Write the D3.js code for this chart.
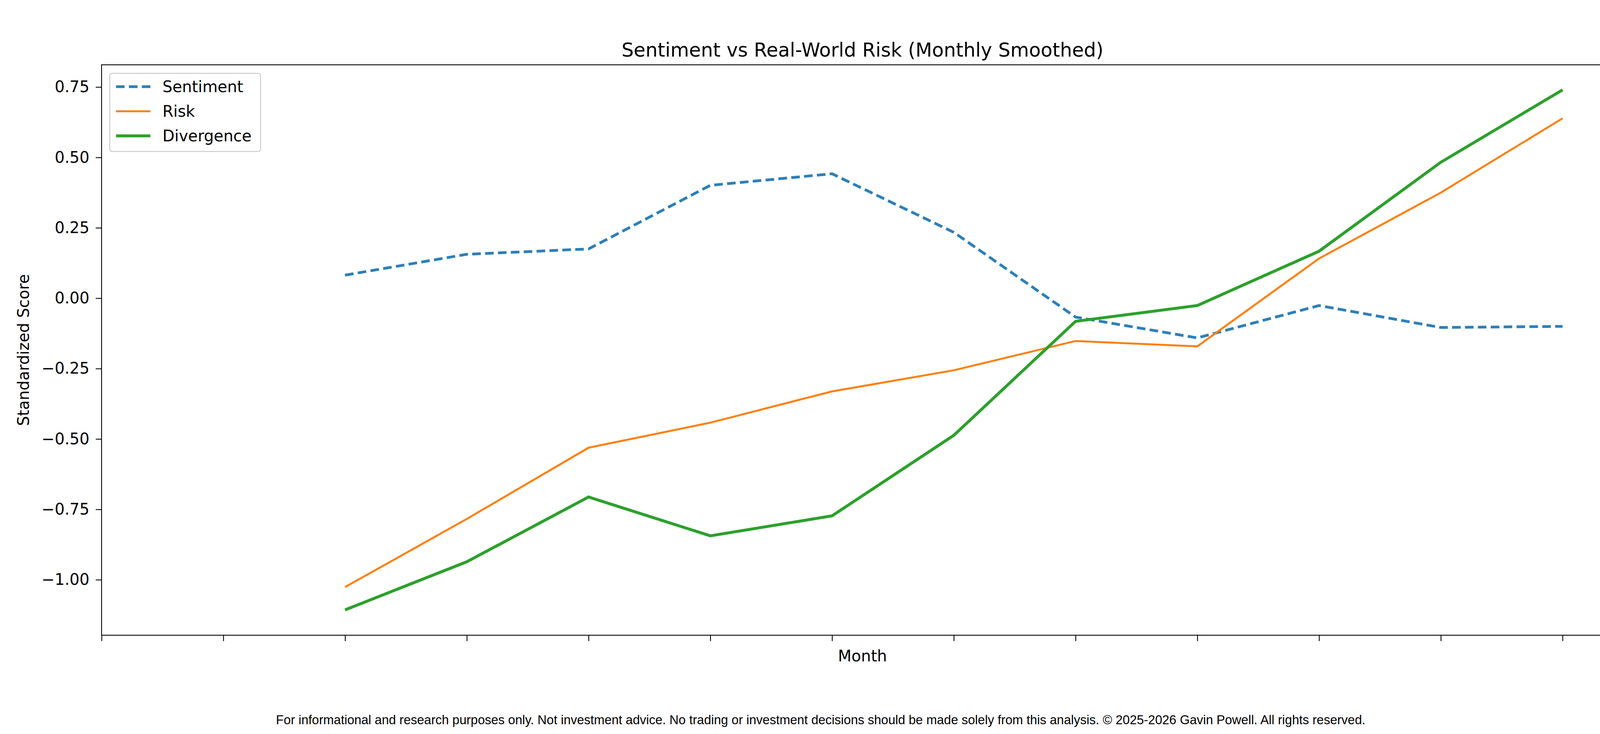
<!DOCTYPE html>
<html><head><meta charset="utf-8">
<script src="https://cdn.jsdelivr.net/npm/d3@7"></script>
<style>body{margin:0;background:#fff}svg{display:block}</style>
</head><body><div id="chart"></div>
<script>
var monthIdx = [2, 3, 4, 5, 6, 7, 8, 9, 10, 11, 12];
var sentiment = [0.082, 0.156, 0.175, 0.401, 0.442, 0.234, -0.067, -0.141, -0.026, -0.104, -0.100];
var risk = [-1.026, -0.784, -0.531, -0.442, -0.331, -0.256, -0.152, -0.171, 0.141, 0.375, 0.639];
var divergence = [-1.107, -0.936, -0.706, -0.844, -0.773, -0.487, -0.082, -0.026, 0.167, 0.483, 0.740];
var yTicks = [-1.0, -0.75, -0.5, -0.25, 0, 0.25, 0.5, 0.75];
var xTicks = d3.range(0, 13);

var W = 4200, H = 1880;
var m = {left: 260, right: 4156, top: 166, bottom: 1627};
var font = "'DejaVu Sans', sans-serif";
var svg = d3.select("#chart").append("svg").attr("width", W).attr("height", H);

var x = d3.scaleLinear().domain([0, 12.5]).range([m.left, m.right]);
var y = d3.scaleLinear().domain([-1.197, 0.829]).range([m.bottom, m.top]);

var yAxis = svg.append("g").attr("transform", "translate(" + m.left + ",0)")
  .call(d3.axisLeft(y).tickValues(yTicks).tickFormat(d3.format(".2f")).tickSize(15).tickPadding(16));
yAxis.selectAll("text").style("font-family", font).style("font-size", "40px").attr("fill", "#000");
yAxis.selectAll("line").attr("stroke", "#000").attr("stroke-width", 2.2);
yAxis.select(".domain").remove();

var xAxis = svg.append("g").attr("transform", "translate(0," + m.bottom + ")")
  .call(d3.axisBottom(x).tickValues(xTicks).tickFormat("").tickSize(15));
xAxis.selectAll("line").attr("stroke", "#000").attr("stroke-width", 2.2);
xAxis.select(".domain").remove();

svg.append("rect").attr("x", m.left).attr("y", m.top)
  .attr("width", m.right - m.left).attr("height", m.bottom - m.top)
  .attr("fill", "none").attr("stroke", "#000").attr("stroke-width", 2.2);

var series = [
  {name: "Sentiment", vals: sentiment, color: "#2c7fb8", width: 7, dash: "22,11"},
  {name: "Risk", vals: risk, color: "#ff7f0e", width: 5, dash: null},
  {name: "Divergence", vals: divergence, color: "#2ca02c", width: 7.5, dash: null}
];
var line = d3.line().x(function (d) { return x(d[0]); }).y(function (d) { return y(d[1]); });
series.forEach(function (s) {
  svg.append("path").datum(monthIdx.map(function (mi, i) { return [mi, s.vals[i]]; }))
    .attr("d", line).attr("fill", "none").attr("stroke", s.color)
    .attr("stroke-width", s.width).attr("stroke-dasharray", s.dash);
});

// legend
var lg = svg.append("g").attr("transform", "translate(281,188)");
lg.append("rect").attr("width", 386).attr("height", 200).attr("rx", 6)
  .attr("fill", "#fff").attr("stroke", "#ccc").attr("stroke-width", 2.5);
series.forEach(function (s, i) {
  var yy = 34 + i * 63;
  lg.append("line").attr("x1", 16).attr("x2", 104).attr("y1", yy).attr("y2", yy)
    .attr("stroke", s.color).attr("stroke-width", s.width).attr("stroke-dasharray", s.dash);
  lg.append("text").attr("x", 135).attr("y", yy + 14).text(s.name)
    .style("font-family", font).style("font-size", "40px");
});

svg.append("text").attr("x", (m.left + m.right) / 2).attr("y", 145).attr("text-anchor", "middle")
  .text("Sentiment vs Real-World Risk (Monthly Smoothed)").style("font-family", font).style("font-size", "49px");
svg.append("text").attr("x", (m.left + m.right) / 2).attr("y", 1694).attr("text-anchor", "middle")
  .text("Month").style("font-family", font).style("font-size", "40px");
svg.append("text").attr("transform", "translate(74," + (m.top + m.bottom) / 2 + ") rotate(-90)")
  .attr("text-anchor", "middle").text("Standardized Score").style("font-family", font).style("font-size", "40px");
svg.append("text").attr("x", 2101).attr("y", 1855).attr("text-anchor", "middle")
  .text("For informational and research purposes only. Not investment advice. No trading or investment decisions should be made solely from this analysis. \u00a9 2025-2026 Gavin Powell. All rights reserved.")
  .style("font-family", "'Liberation Sans', Arial, sans-serif").style("font-size", "32.5px");
</script></body></html>
